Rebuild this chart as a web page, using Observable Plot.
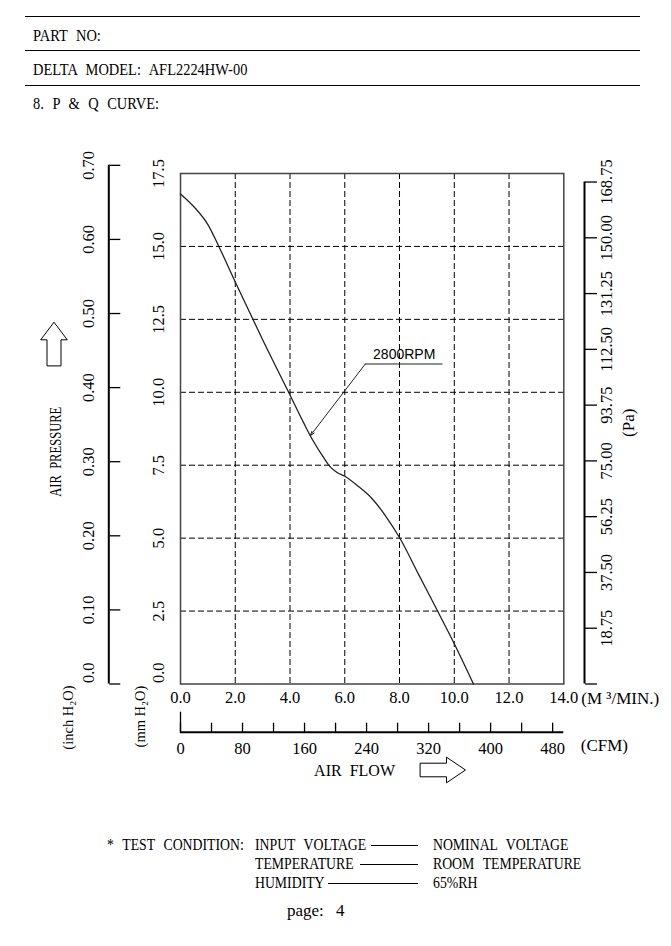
<!DOCTYPE html>
<html>
<head>
<meta charset="utf-8">
<script src="https://cdn.jsdelivr.net/npm/d3@7"></script>
<script src="https://cdn.jsdelivr.net/npm/@observablehq/plot@0.6"></script>
<style>
  body { margin: 0; background: #fff; color: #000; font-family: "Liberation Serif", serif; }
  #page { position: relative; width: 671px; height: 946px; overflow: hidden; background: #fff; }
  .hl { position: absolute; left: 25px; width: 615px; height: 0; border-top: 1.3px solid #000; }
  .t { position: absolute; line-height: 1; white-space: pre; transform-origin: 0 0; }
  .h { font-size: 17.5px; word-spacing: 6px; transform: scaleX(0.825); }
  .f { font-size: 16px; word-spacing: 6px; transform: scaleX(0.86); }
  .dash { position: absolute; height: 0; border-top: 1px solid #000; }
  #chart { position: absolute; left: 0; top: 120px; }
</style>
</head>
<body>
<div id="page">
  <div class="hl" style="top:16px"></div>
  <div class="t h" style="left:33px;top:27px">PART NO:</div>
  <div class="hl" style="top:50px"></div>
  <div class="t h" style="left:33px;top:61px">DELTA MODEL: AFL2224HW-00</div>
  <div class="hl" style="top:85px"></div>
  <div class="t h" style="left:33px;top:95px">8. P &amp; Q CURVE:</div>

  <div id="chart"></div>

  <div class="t f" style="left:107px;top:837px">* TEST CONDITION:</div>
  <div class="t f" style="left:255px;top:837px">INPUT VOLTAGE</div>
  <div class="dash" style="left:371px;width:47px;top:845px"></div>
  <div class="t f" style="left:433px;top:837px">NOMINAL VOLTAGE</div>
  <div class="t f" style="left:255px;top:856px">TEMPERATURE</div>
  <div class="dash" style="left:360px;width:58px;top:864px"></div>
  <div class="t f" style="left:433px;top:856px">ROOM TEMPERATURE</div>
  <div class="t f" style="left:255px;top:875px">HUMIDITY</div>
  <div class="dash" style="left:328px;width:90px;top:883px"></div>
  <div class="t f" style="left:433px;top:875px">65%RH</div>
  <div class="t" style="left:287px;top:902px;font-size:17px;word-spacing:8px">page: 4</div>
</div>
<script>
// ---- data ----
const flowM3 =     [0,    0.5,   1.0,   1.4,  2.0,   3.0,  3.95, 4.5,  4.74, 5.2, 5.45, 5.72, 6.0,  6.5,  7.0,  7.5,  8.03, 8.7,  9.39, 10.0, 10.7];
const pressureMm = [16.8, 16.35, 15.75, 15.0, 13.78, 11.8, 10.0, 8.95, 8.51, 7.8, 7.46, 7.25, 7.12, 6.77, 6.35, 5.75, 4.97, 3.75, 2.5,  1.38, 0];

const flowTicks = [0, 2, 4, 6, 8, 10, 12, 14];
const mmTicks = [0, 2.5, 5, 7.5, 10, 12.5, 15, 17.5];
const inchTicks = [0, 0.1, 0.2, 0.3, 0.4, 0.5, 0.6, 0.7];
const paTicks = [0, 18.75, 37.5, 56.25, 75, 93.75, 112.5, 131.25, 150, 168.75];
const cfmTicks = [0, 40, 80, 120, 160, 200, 240, 280, 320, 360, 400, 440, 480];
const cfmLabels = [0, 80, 160, 240, 320, 400, 480];
const xGrid = [2, 4, 6, 8, 10, 12];
const yGrid = [2.5, 5, 7.5, 10, 12.5, 15];
const curveLabel = ["2800RPM"];
const leaderX = [4.74, 6.75, 9.59];
const leaderY = [8.51, 10.97, 10.97];

const MM_PER_INCH = 25.4, PA_PER_MM = 9.80665, CFM_PER_M3 = 35.3147;

const curve = flowM3.map((x, i) => ({x, y: pressureMm[i]}));
const leaderSeg = [{x1: leaderX[1], y1: leaderY[1], x2: leaderX[0], y2: leaderY[0]}];

const dash = {stroke: "#000", strokeWidth: 1, strokeDasharray: "6,3"};
const mid = {textAnchor: "middle", lineAnchor: "middle"};
const fmt1 = d => d.toFixed(1);

// outlined block-arrow shape for Plot.vector (drawn pointing "up", rotated by the mark)
const blockArrow = (headLen, headHalf, shaftHalf) => ({
  draw(ctx, l) {
    const b = -(l - headLen);
    ctx.moveTo(-shaftHalf, 0);
    ctx.lineTo(-shaftHalf, b);
    ctx.lineTo(-headHalf, b);
    ctx.lineTo(0, -l);
    ctx.lineTo(headHalf, b);
    ctx.lineTo(shaftHalf, b);
    ctx.lineTo(shaftHalf, 0);
    ctx.closePath();
  }
});

const chart = Plot.plot({
  width: 671,
  height: 690,
  marginLeft: 180,
  marginRight: 107.7,
  marginTop: 53,
  marginBottom: 126.5,
  x: {domain: [0, 14]},
  y: {domain: [0, 17.5]},
  style: {fontFamily: '"Liberation Serif", serif', fontSize: "16.5px", background: "transparent", overflow: "visible"},
  marks: [
    // grid
    Plot.ruleX(xGrid, dash),
    Plot.ruleY(yGrid, dash),
    Plot.frame({stroke: "#444", strokeWidth: 1.5}),
    // P-Q curve
    Plot.line(curve, {x: "x", y: "y", curve: "monotone-x", stroke: "#222", strokeWidth: 1.3}),
    // annotation
    Plot.arrow(leaderSeg, {x1: "x1", y1: "y1", x2: "x2", y2: "y2", stroke: "#222", strokeWidth: 1, headLength: 7, headAngle: 35}),
    Plot.ruleY([leaderY[1]], {x1: leaderX[1], x2: leaderX[2], stroke: "#222", strokeWidth: 1}),
    Plot.text(curveLabel, {x: (leaderX[1] + leaderX[2]) / 2, y: leaderY[1], dy: -9, fontFamily: '"Liberation Sans", sans-serif', fontSize: 14}),

    // mm H2O labels (left of frame)
    Plot.text(mmTicks.slice(1), {...mid, y: d => d, text: fmt1, frameAnchor: "left", dx: -22, rotate: -90}),
    Plot.text([mmTicks[0]], {y: d => d, text: fmt1, frameAnchor: "left", dx: -22, dy: -1, rotate: -90, textAnchor: "start", lineAnchor: "middle"}),

    // inch H2O axis
    Plot.ruleX([0], {y1: 0, y2: inchTicks[inchTicks.length - 1] * MM_PER_INCH, dx: -71.7, stroke: "#000", strokeWidth: 2}),
    Plot.axisY(inchTicks.map(d => d * MM_PER_INCH), {anchor: "right", dx: -455, tickSize: 11, fill: "none", label: null, strokeWidth: 1.3}),
    Plot.text(inchTicks.slice(1), {...mid, y: d => d * MM_PER_INCH, text: d => d.toFixed(2), frameAnchor: "left", dx: -92, rotate: -90}),
    Plot.text([inchTicks[0]], {y: d => d * MM_PER_INCH, text: fmt1, frameAnchor: "left", dx: -92, dy: -1, rotate: -90, textAnchor: "start", lineAnchor: "middle"}),

    // Pa axis (right)
    Plot.ruleX([14], {y1: 0, y2: paTicks[paTicks.length - 1] / PA_PER_MM, dx: 20.7, stroke: "#000", strokeWidth: 2}),
    Plot.axisY(paTicks.map(d => d / PA_PER_MM), {anchor: "right", dx: 20.7, tickSize: 12, fill: "none", label: null, strokeWidth: 1.3}),
    Plot.text(paTicks.slice(1), {...mid, y: d => d / PA_PER_MM, text: d => d.toFixed(2), frameAnchor: "right", dx: 43, rotate: -90}),
    Plot.text(["(Pa)"], {...mid, frameAnchor: "right", dx: 64.7, dy: -6, rotate: -90, fontSize: 17}),

    // airflow m3/min labels
    Plot.text(flowTicks, {...mid, x: d => d, text: fmt1, frameAnchor: "bottom", dy: 14}),
    Plot.text(["(M ³/MIN.)"], {frameAnchor: "bottom-right", dx: 17.5, dy: 14.5, textAnchor: "start", lineAnchor: "middle", fontSize: 17}),

    // CFM axis
    Plot.ruleY([0], {x1: flowTicks[0], x2: flowTicks[flowTicks.length - 1], dy: 48.2, stroke: "#000", strokeWidth: 2}),
    Plot.axisX(cfmTicks.map(d => d / CFM_PER_M3), {anchor: "top", dy: 558.7, tickSize: 10, fill: "none", label: null, strokeWidth: 1.3}),
    Plot.axisX([cfmTicks[0]], {anchor: "top", dy: 558.7, tickSize: 21, fill: "none", label: null, strokeWidth: 1.3}),
    Plot.text(cfmLabels, {...mid, x: d => d / CFM_PER_M3, text: d => String(d), frameAnchor: "bottom", dy: 64.5}),
    Plot.text(["(CFM)"], {frameAnchor: "bottom-right", dx: 17, dy: 61.5, textAnchor: "start", lineAnchor: "middle", fontSize: 17}),

    // axis titles and arrows
    Plot.text(["AIR  PRESSURE"], {...mid, frameAnchor: "left", dx: -125, dy: 23, rotate: -90, fontSize: 17}),
    Plot.vector([0], {frameAnchor: "left", dx: -126.5, dy: -63.25, length: 43.3, rotate: 0, anchor: "start",
      shape: blockArrow(17.6, 13.3, 7), stroke: "#000", strokeWidth: 1, strokeLinejoin: "miter", fill: "white"}),
    Plot.text(["(inch H₂O)"], {...mid, frameAnchor: "bottom-left", dx: -112, dy: 33.5, rotate: -90, fontSize: 14.5}),
    Plot.text(["(mm H₂O)"], {...mid, frameAnchor: "bottom-left", dx: -40, dy: 32.5, rotate: -90, fontSize: 14.5}),
    Plot.text(["AIR  FLOW"], {...mid, frameAnchor: "bottom", dx: -17.6, dy: 86.5, fontSize: 16}),
    Plot.vector([0], {frameAnchor: "bottom", dx: 48.35, dy: 86, length: 45, rotate: 90, anchor: "start",
      shape: blockArrow(19, 12.8, 6.8), stroke: "#000", strokeWidth: 1, strokeLinejoin: "miter", fill: "white"})
  ]
});

// condensed lettering for the pressure title (the drawing uses a narrow face)
const condense = {"AIR  PRESSURE": 0.74};
d3.select(chart).selectAll("text").each(function () {
  const s = condense[this.textContent];
  if (s) this.setAttribute("transform", (this.getAttribute("transform") || "") + ` scale(${s},1)`);
});

document.getElementById("chart").appendChild(chart);
</script>
</body>
</html>
